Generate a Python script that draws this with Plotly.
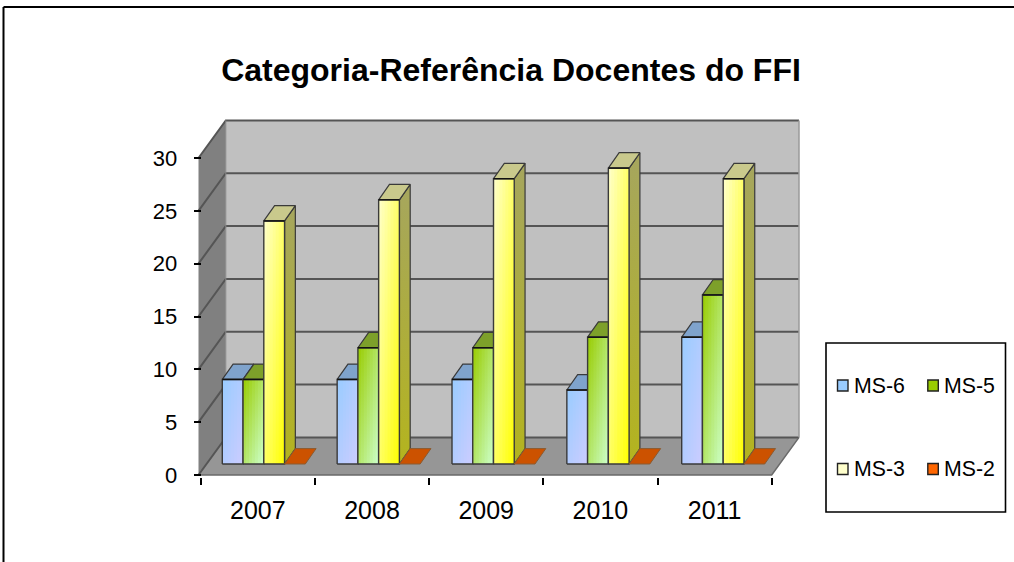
import plotly.graph_objects as go

# ---------- data ----------
years = ["2007", "2008", "2009", "2010", "2011"]
ms6 = [8, 8, 8, 7, 12]
ms5 = [8, 11, 11, 12, 16]
ms3 = [23, 25, 27, 28, 27]
ms2 = [0, 0, 0, 0, 0]
series_names = ["MS-6", "MS-5", "MS-3", "MS-2"]
y_ticks = [0, 5, 10, 15, 20, 25, 30]

# ---------- style ----------
W, H = 1014, 562
FONT = "Liberation Sans"
X0_PX, UX = 200.7, 114.2   # pixel of category edge 0, pixels per category
Y0_PX, UY = 475.0, 10.567  # pixel of value 0, pixels per value
PLOT_L, PLOT_R, PLOT_T, PLOT_B = 196.0, 803.0, 117.0, 477.0

# depth projection, in axis units
WALL_DX, WALL_DY = 27.3 / UX, 37.6 / UY
BAR_DX, BAR_DY = 10.8 / UX, 15.4 / UY
BAR_W = 20.75 / UX
BAR_START = 21.6 / UX
BAR_PITCH = 114.85 / UX
BAR_BASE = 11.0 / UY
WALL_LEFT = -2.2 / UX
N_STRIPS = 7

grad = {  # start colour, end colour of the diagonal gradient
    "MS-6": ((0x99, 0xCC, 0xFF), (0xCC, 0xCC, 0xFF)),
    "MS-5": ((0x99, 0xCC, 0x00), (0xCC, 0xFF, 0xCC)),
    "MS-3": ((0xFF, 0xFF, 0xCC), (0xFF, 0xFF, 0x00)),
}
side_grad = {  # side face colour at the top, at the bottom
    "MS-6": ("#6F8FB0", "#8585A8"),
    "MS-5": ("#6A8A10", "#88A888"),
    "MS-3": ("#A6A65E", "#B4B41E"),
}
flat = {"MS-6": "#99CCFF", "MS-5": "#99CC00", "MS-3": "#FFFFCC", "MS-2": "#FF6600"}
top_col = {"MS-6": "#7FA3CC", "MS-5": "#7DA02A", "MS-3": "#C9C98C", "MS-2": "#CC5200"}
EDGE = "#3a3a3a"
GRID = "#555555"


def mix(a, b, t):
    return "rgb(%d,%d,%d)" % tuple(round(a[k] + (b[k] - a[k]) * t) for k in range(3))


fig = go.Figure()


def poly(xs, ys, fill=None, line=None, lw=1.5, gradient=None):
    kw = dict(x=xs, y=ys, mode="lines", hoverinfo="skip", showlegend=False)
    if fill or gradient:
        kw["fill"] = "toself"
        if fill:
            kw["fillcolor"] = fill
        if gradient:
            kw["fillgradient"] = gradient
    kw["line"] = dict(color=line, width=lw) if line else dict(width=0)
    fig.add_trace(go.Scatter(**kw))


# ---------- walls ----------
n = len(years)
top = y_ticks[-1]
xl, xr = WALL_LEFT, float(n)
poly([xl + WALL_DX, xr + WALL_DX, xr + WALL_DX, xl + WALL_DX, xl + WALL_DX],
     [WALL_DY, WALL_DY, top + WALL_DY, top + WALL_DY, WALL_DY], fill="#C0C0C0")
poly([xl, xl + WALL_DX, xl + WALL_DX, xl, xl],
     [0, WALL_DY, top + WALL_DY, top, 0], fill="#808080")
poly([xl, xr, xr + WALL_DX, xl + WALL_DX, xl],
     [0, 0, WALL_DY, WALL_DY, 0], fill="#969696")
# gridlines on side and back wall
for v in y_ticks:
    poly([xl, xl + WALL_DX, xr + WALL_DX],
         [v, v + WALL_DY, v + WALL_DY], line=GRID, lw=2)
poly([xl + WALL_DX, xl + WALL_DX], [WALL_DY, top + WALL_DY], line="#8a8a8a", lw=1)
poly([xr + WALL_DX, xr + WALL_DX], [WALL_DY, top + WALL_DY], line="#9a9a9a", lw=1.5)
poly([xl, xr, xr + WALL_DX], [0, 0, WALL_DY], line="#6a6a6a", lw=1.5)

# ---------- bars ----------
all_values = [ms6, ms5, ms3, ms2]
for i in range(n):
    for s, (name, values) in enumerate(zip(series_names, all_values)):
        v = values[i]
        x0 = i * BAR_PITCH + BAR_START + s * BAR_W
        x1 = x0 + BAR_W
        y0 = BAR_BASE
        y1 = BAR_BASE + v
        if name == "MS-2" or v == 0:
            poly([x0, x1, x1 + BAR_DX, x0 + BAR_DX, x0],
                 [y1, y1, y1 + BAR_DY, y1 + BAR_DY, y1],
                 fill=top_col[name], line="#8a5a30", lw=1)
            continue
        a, b = grad[name]
        # side face
        poly([x1, x1 + BAR_DX, x1 + BAR_DX, x1, x1],
             [y0, y0 + BAR_DY, y1 + BAR_DY, y1, y0],
             gradient=dict(type="vertical", start=y0, stop=y1 + BAR_DY,
                           colorscale=[[0, side_grad[name][1]], [1, side_grad[name][0]]]),
             line=EDGE, lw=1.2)
        # top face
        poly([x0, x1, x1 + BAR_DX, x0 + BAR_DX, x0],
             [y1, y1, y1 + BAR_DY, y1 + BAR_DY, y1],
             fill=top_col[name], line=EDGE, lw=1.2)
        # front face: strips with vertical gradients give a diagonal blend
        for k in range(N_STRIPS):
            u = k / N_STRIPS
            sx = x0 + BAR_W * u
            um = (k + 0.5) / N_STRIPS
            poly([sx, x1, x1, sx, sx], [y0, y0, y1, y1, y0],
                 gradient=dict(type="vertical", start=y0, stop=y1,
                               colorscale=[[0, mix(a, b, (um + 1) / 2)],
                                           [1, mix(a, b, um / 2)]]))
        poly([x0, x1, x1, x0, x0], [y0, y0, y1, y1, y0], line=EDGE, lw=1.4)
        poly([x0, x1], [y1, y1], line="#101010", lw=1.4)


# ---------- layout ----------
def px_x(p):
    return p / W


def px_y(p):
    return 1 - p / H


shapes = [
    dict(type="line", xref="paper", yref="paper", x0=px_x(3.5), x1=1, y0=px_y(7), y1=px_y(7),
         line=dict(color="black", width=2)),
    dict(type="line", xref="paper", yref="paper", x0=px_x(3.5), x1=px_x(3.5), y0=px_y(7), y1=0,
         line=dict(color="black", width=2)),
    dict(type="rect", xref="paper", yref="paper", x0=px_x(826), x1=px_x(1005.5),
         y0=px_y(512), y1=px_y(343), line=dict(color="black", width=1.6), fillcolor="white"),
]
annotations = []
legend_pos = [(837.5, 385.5), (927.8, 385.5), (837.5, 469.0), (927.8, 469.0)]
for name, (lx, ly) in zip(series_names, legend_pos):
    shapes.append(dict(type="rect", xref="paper", yref="paper", x0=px_x(lx), x1=px_x(lx + 10.5),
                       y0=px_y(ly + 5.5), y1=px_y(ly - 5.5), fillcolor=flat[name],
                       line=dict(color="#222222", width=1.4)))
    annotations.append(dict(text=name, xref="paper", yref="paper", x=px_x(lx + 14.5), y=px_y(ly),
                            xanchor="left", yanchor="middle", showarrow=False,
                            font=dict(family=FONT, size=21.3, color="black")))

fig.update_layout(
    width=W, height=H, margin=dict(l=0, r=0, t=0, b=0, autoexpand=False),
    paper_bgcolor="white", plot_bgcolor="white", showlegend=False,
    title=dict(text="<b>Categoria-Referência Docentes do FFI</b>", x=511 / W, xanchor="center",
               y=px_y(70), yanchor="middle",
               font=dict(family=FONT, size=32, color="black")),
    xaxis=dict(domain=[px_x(PLOT_L), px_x(PLOT_R)], automargin=False,
               range=[(PLOT_L - X0_PX) / UX, (PLOT_R - X0_PX) / UX],
               tickmode="array", tickvals=[i + 0.5 for i in range(n)], ticktext=years,
               ticks="", showgrid=False, zeroline=False, showline=False,
               ticklabelstandoff=16,
               tickfont=dict(family=FONT, size=25, color="black"),
               minor=dict(tickmode="array", tickvals=list(range(n + 1)), ticks="outside",
                          ticklen=7, tickwidth=1.6, tickcolor="black", showgrid=False)),
    yaxis=dict(domain=[px_y(PLOT_B), px_y(PLOT_T)], automargin=False,
               range=[(Y0_PX - PLOT_B) / UY, (Y0_PX - PLOT_T) / UY],
               anchor="free", position=px_x(X0_PX), side="left",
               tickmode="array", tickvals=y_ticks, ticks="outside", ticklen=7, tickwidth=1.6,
               tickcolor="black", showgrid=False, zeroline=False, showline=False,
               ticklabelstandoff=12,
               tickfont=dict(family=FONT, size=22, color="black")),
    shapes=shapes, annotations=annotations,
)

fig.write_html("out.html", config={"displayModeBar": False},
               post_script="document.body.style.margin='0';document.body.style.overflow='hidden';")
